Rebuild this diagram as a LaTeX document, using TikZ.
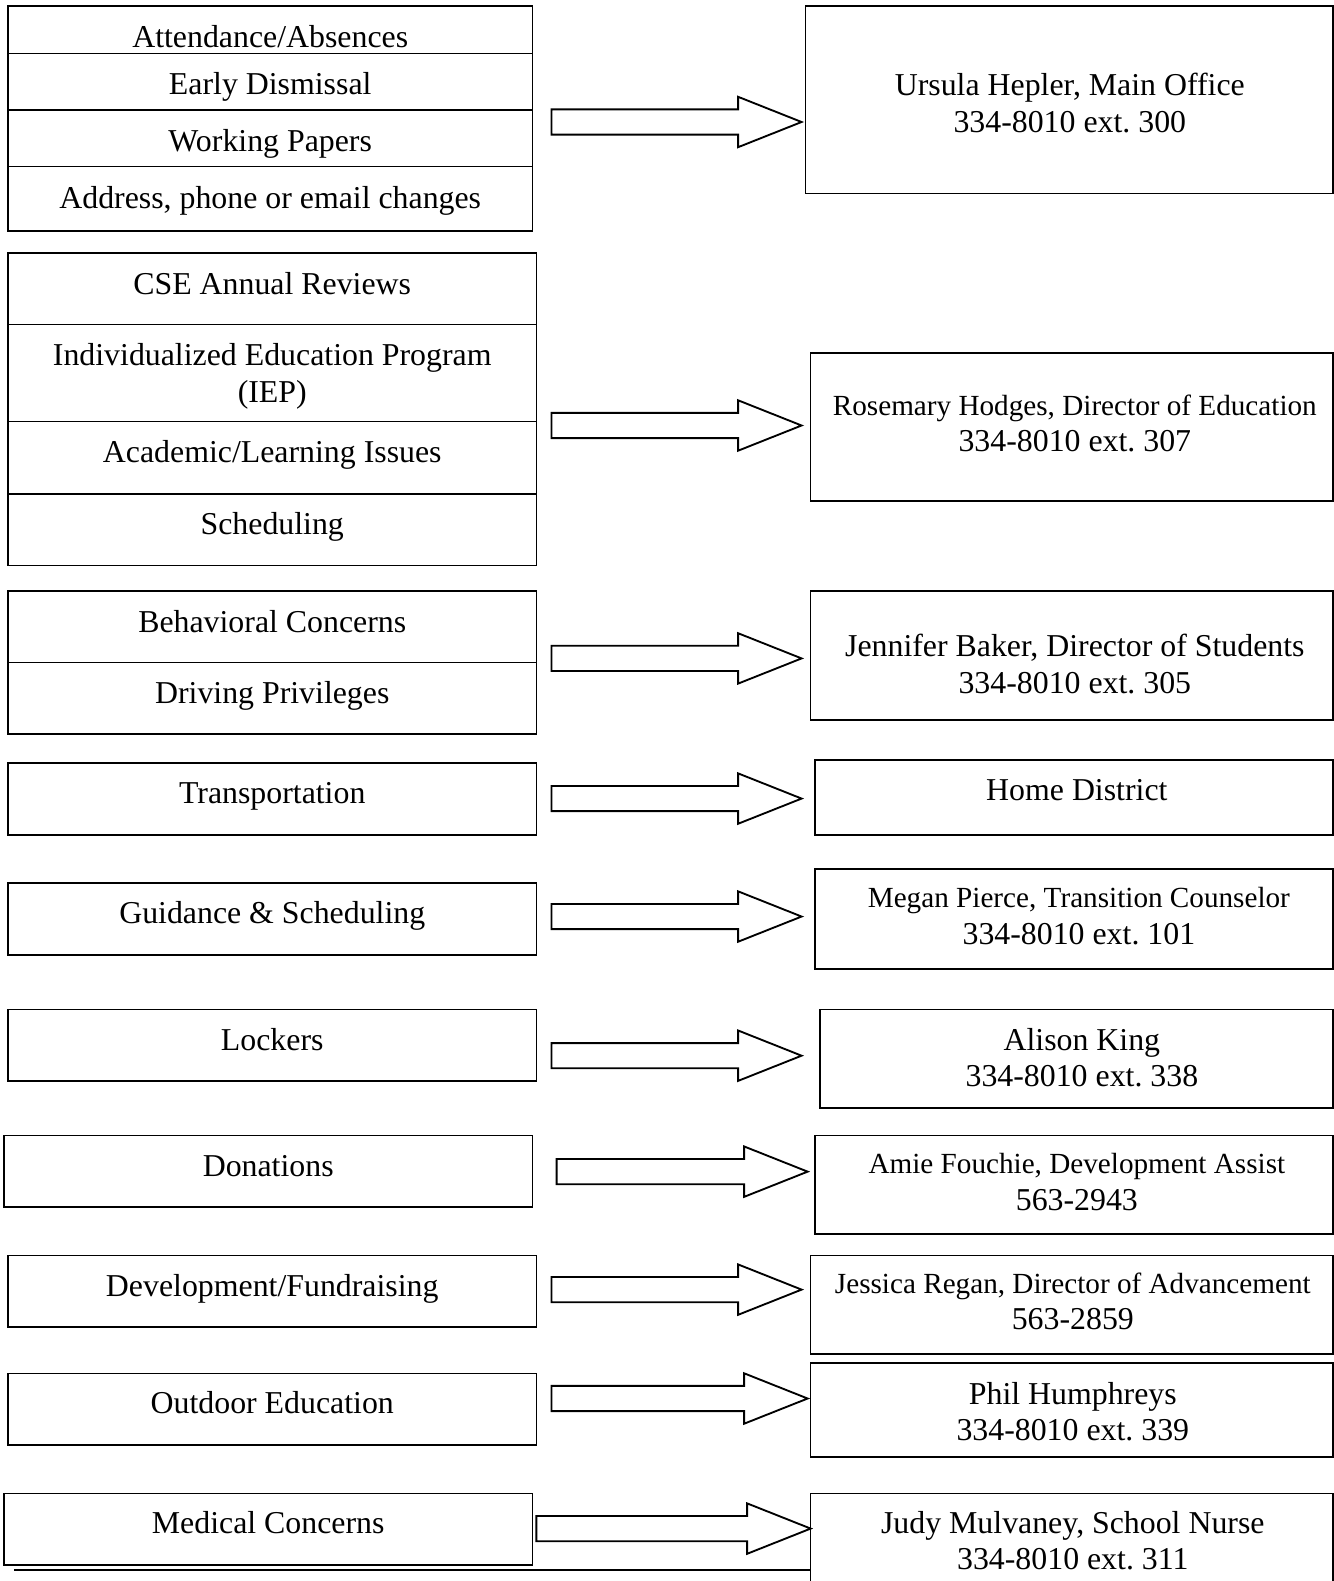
\documentclass[tikz,border=0pt]{standalone}
\usepackage{fontspec}
\setmainfont{Liberation Serif}
\frenchspacing
\usetikzlibrary{calc}
\def\fatarrow(#1)(#2){\draw[line width=0.7pt, line join=miter] ($(#1)+(0,-12.5)$) -- ($(#2)+(-63,-12.5)$) -- ($(#2)+(-63,-25)$) -- (#2) -- ($(#2)+(-63,25)$) -- ($(#2)+(-63,12.5)$) -- ($(#1)+(0,12.5)$) -- cycle;}
\tikzset{
  box/.style={draw, line width=0.6pt, inner sep=0pt},
  sz/.style 2 args={minimum width=#1*0.38pt, minimum height=#2*0.38pt},
  txt/.style={font=\fontsize{12}{13.8}\selectfont, align=center, inner sep=0pt},
}
\newcommand{\smallline}[1]{{\fontsize{11}{13.8}\selectfont #1}}

\begin{document}
\begin{tikzpicture}[x=0.38pt, y=-0.38pt]
			%%%%% START %%%%%
			\useasboundingbox (0,0) rectangle (1323,1568);
			\clip (0,0) rectangle (1323,1568);
			\fill[white] (0,0) rectangle (1323,1568);
			
			% left column
			\node[box, sz={520}{47}] (att) at (268,29.5) {};
			\node[box, sz={520}{56}] (early) at (268,81) {};
			\node[box, sz={520}{56}] (work) at (268,137) {};
			\node[box, sz={520}{64}] (addr) at (268,197) {};
			\node[txt] (attT) at (268,36) {Attendance/Absences};
			\node[txt] (earlyT) at (268,86) {Early Dismissal};
			\node[txt] (workT) at (268,143) {Working Papers};
			\node[txt] (addrT) at (268,199) {Address, phone or email changes};
			
			\node[box, sz={524}{71}] (cse) at (270,286.5) {};
			\node[box, sz={524}{96}] (iep) at (270,370) {};
			\node[box, sz={524}{72}] (acad) at (270,454) {};
			\node[box, sz={524}{71}] (sched) at (270,525.5) {};
			\node[txt] (cseT) at (270,281) {CSE Annual Reviews};
			\node[txt] (iepT) at (270,373) {Individualized Education Program\\(IEP)};
			\node[txt] (acadT) at (270,451) {Academic/Learning Issues};
			\node[txt] (schedT) at (270,523) {Scheduling};
			
			\node[box, sz={524}{71}] (behav) at (270,621.5) {};
			\node[box, sz={524}{71}] (drive) at (270,692.5) {};
			\node[txt] (behavT) at (270,616) {Behavioral Concerns};
			\node[txt] (driveT) at (270,690) {Driving Privileges};
			
			\node[box, sz={524}{71}] (trans) at (270,792.5) {};
			\node[txt] (transT) at (270,790) {Transportation};
			
			\node[box, sz={524}{71}] (guid) at (270,911.5) {};
			\node[txt] (guidT) at (270,908) {Guidance \& Scheduling};
			
			\node[box, sz={524}{71}] (lock) at (270,1036.5) {};
			\node[txt] (lockT) at (270,1031) {Lockers};
			
			\node[box, sz={524}{71}] (don) at (266,1161.5) {};
			\node[txt] (donT) at (266,1157) {Donations};
			
			\node[box, sz={524}{71}] (dev) at (270,1280.5) {};
			\node[txt] (devT) at (270,1278) {Development/Fundraising};
			
			\node[box, sz={524}{71}] (out) at (270,1397.5) {};
			\node[txt] (outT) at (270,1391) {Outdoor Education};
			
			\node[box, sz={524}{71}] (med) at (266,1516.5) {};
			\node[txt] (medT) at (266,1510) {Medical Concerns};
			
			% right column
			\node[box, sz={523}{186}] (office) at (1060.5,99) {};
			\node[txt] (officeT) at (1061,102) {Ursula Hepler, Main Office\\334-8010 ext. 300};
			
			\node[box, sz={518}{147}] (educ) at (1063,423.5) {};
			\node[txt] (educT) at (1066,420) {\smallline{Rosemary Hodges, Director of Education}\\334-8010 ext. 307};
			
			\node[box, sz={518}{128}] (stud) at (1063,650) {};
			\node[txt] (studT) at (1066,658.5) {Jennifer Baker, Director of Students\\334-8010 ext. 305};
			
			\node[box, sz={514}{74}] (home) at (1065,791) {};
			\node[txt] (homeT) at (1068,784) {Home District};
			
			\node[box, sz={514}{99}] (couns) at (1065,911.5) {};
			\node[txt] (counsT) at (1070,908.5) {\smallline{Megan Pierce, Transition Counselor}\\334-8010 ext. 101};
			
			\node[box, sz={509}{98}] (king) at (1067.5,1050) {};
			\node[txt] (kingT) at (1073,1049) {Alison King\\334-8010 ext. 338};
			
			\node[box, sz={514}{98}] (assist) at (1065,1175) {};
			\node[txt] (assistT) at (1068,1172) {\smallline{Amie Fouchie, Development Assist}\\563-2943};
			
			\node[box, sz={518}{98}] (adv) at (1063,1294) {};
			\node[txt] (advT) at (1064,1290.5) {\smallline{Jessica Regan, Director of Advancement}\\563-2859};
			
			\node[box, sz={518}{93}] (phil) at (1063,1398.5) {};
			\node[txt] (philT) at (1064,1400) {Phil Humphreys\\334-8010 ext. 339};
			
			\node[box, sz={518}{119}] (nurse) at (1063,1540.5) {};
			\node[txt] (nurseT) at (1064,1528) {Judy Mulvaney, School Nurse\\334-8010 ext. 311};
			
			% arrows
			\coordinate (a1) at (547,121);   \coordinate (b1) at (795,121);
			\coordinate (a2) at (547,422);   \coordinate (b2) at (795,422);
			\coordinate (a3) at (547,653);   \coordinate (b3) at (795,653);
			\coordinate (a4) at (547,792);   \coordinate (b4) at (795,792);
			\coordinate (a5) at (547,909);   \coordinate (b5) at (795,909);
			\coordinate (a6) at (547,1047);  \coordinate (b6) at (795,1047);
			\coordinate (a7) at (552,1162);  \coordinate (b7) at (801,1162);
			\coordinate (a8) at (547,1279);  \coordinate (b8) at (795,1279);
			\coordinate (a9) at (547,1387);  \coordinate (b9) at (801,1387);
			\coordinate (a10) at (532,1516); \coordinate (b10) at (804,1516);
			\fatarrow(a1)(b1)
			\fatarrow(a2)(b2)
			\fatarrow(a3)(b3)
			\fatarrow(a4)(b4)
			\fatarrow(a5)(b5)
			\fatarrow(a6)(b6)
			\fatarrow(a7)(b7)
			\fatarrow(a8)(b8)
			\fatarrow(a9)(b9)
			\fatarrow(a10)(b10)
			
			\draw[line width=1pt] (14,1557) -- (nurse.west |- 0,1557);
			%%%%% END %%%%%
\end{tikzpicture}
\end{document}
